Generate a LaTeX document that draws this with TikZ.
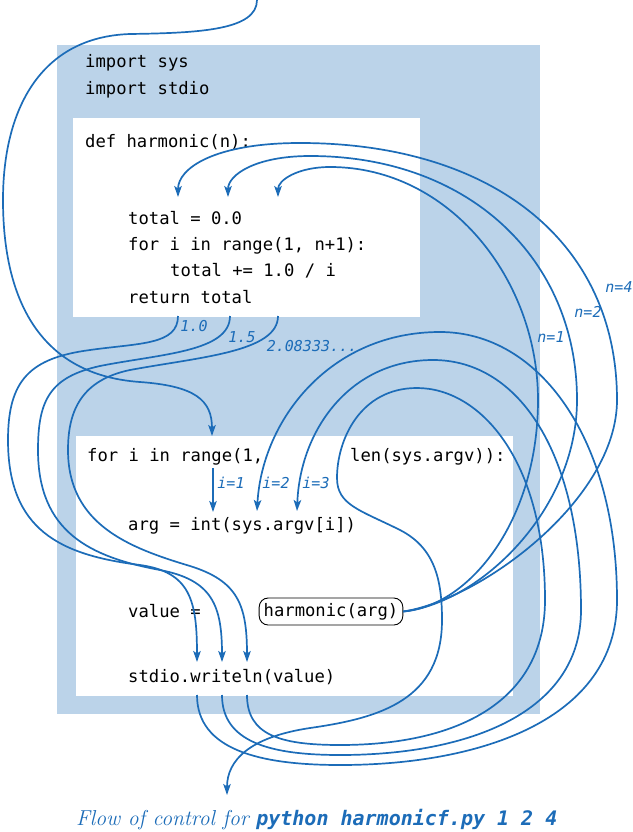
\documentclass[tikz,border=0pt]{standalone}
\usepackage{fontspec}
\setmonofont{DejaVu Sans Mono}
\usetikzlibrary{positioning,arrows.meta,calc}
\definecolor{flowblue}{RGB}{28,108,184}
\definecolor{panelblue}{RGB}{187,211,233}

\tikzset{
  code/.style={anchor=base west,inner sep=0pt,font=\fontsize{17.2}{20}\selectfont\ttfamily},
  flow/.style={draw=flowblue,line width=1.7pt},
  flowarrow/.style={flow,-{Stealth[length=11pt,width=7.5pt,inset=2.5pt]}},
  flowlabel/.style={inner sep=0pt,font=\fontsize{15}{17}\selectfont\ttfamily\itshape,text=flowblue},
  callbox/.style={draw,line width=0.9pt,rounded corners=9pt,fill=white,minimum height=27pt,
    inner xsep=4.5pt,font=\fontsize{17.2}{20}\selectfont\ttfamily},
}

\begin{document}
\begin{tikzpicture}[x=1pt,y=-1pt]
\useasboundingbox (0,0) rectangle (632,832);

% panels
\fill[panelblue] (57,45) rectangle (540,714);
\fill[white] (73,118) rectangle (420,317);
\fill[white] (76,436) rectangle (513,696);

% code
\node[code] (impsys) at (85,68) {import sys};
\node[code] (impstdio) at (85,95) {import stdio};
\node[code] (defline) at (85,147) {def harmonic(n):};
\node[code] (totalinit) at (128,224) {total = 0.0};
\node[code] (forinner) at (128,250) {for i in range(1, n+1):};
\node[code] (totaladd) at (170,276) {total += 1.0 / i};
\node[code] (retline) at (128,303) {return total};
\node[code] (forouter) at (87,461) {for i in range(1,};
\node[code] (lenpart) at (350,461) {len(sys.argv)):};
\node[code] (argline) at (128,530) {arg = int(sys.argv[i])};
\node[code] (valueline) at (128,617) {value =};
\node[code] (writeline) at (128,682) {stdio.writeln(value)};
\node[callbox] (call) at (331,611.5) {harmonic(arg)};

% connector ends
\coordinate (start) at (257,0);
\coordinate (enter) at (212,436);
\coordinate (t1) at (178,197);
\coordinate (t2) at (228,197);
\coordinate (t3) at (278,197);
\coordinate (r1) at (178,316);
\coordinate (r2) at (230,316);
\coordinate (r3) at (278,316);
\coordinate (w1) at (197,662);
\coordinate (w2) at (222,662);
\coordinate (w3) at (247,662);
\coordinate (b1) at (197,695);
\coordinate (b2) at (222,695);
\coordinate (b3) at (247,695);
\coordinate (i1s) at (213,468);
\coordinate (i1) at (213,512);
\coordinate (i2) at (257,511);
\coordinate (i3) at (297,511);
\coordinate (done) at (227,795);

% entry
\draw[flowarrow] (start) .. controls (257,30) and (200,33) .. (130,34)
  .. controls (40,37) and (3,110) .. (3,200)
  .. controls (3,300) and (40,375) .. (140,382)
  .. controls (195,386) and (212,400) .. (enter);

% calls
\draw[flowarrow] (call.east) .. controls (480,600) and (617,500) .. (617,400)
  .. controls (617,240) and (490,143) .. (300,143)
  .. controls (215,143) and (178,168) .. (t1);
\draw[flowarrow] (call.east) .. controls (480,603) and (577,510) .. (577,400)
  .. controls (577,260) and (470,156) .. (310,156)
  .. controls (255,156) and (228,175) .. (t2);
\draw[flowarrow] (call.east) .. controls (470,606) and (538,520) .. (538,400)
  .. controls (538,280) and (450,167) .. (330,167)
  .. controls (298,167) and (278,180) .. (t3);

% returns
\draw[flowarrow] (r1) .. controls (178,345) and (140,343) .. (90,350)
  .. controls (30,358) and (8,380) .. (8,440)
  .. controls (8,530) and (60,555) .. (140,565)
  .. controls (190,572) and (197,600) .. (w1);
\draw[flowarrow] (r2) .. controls (230,352) and (160,354) .. (100,366)
  .. controls (50,377) and (38,400) .. (38,450)
  .. controls (38,532) and (90,557) .. (160,570)
  .. controls (212,580) and (222,605) .. (w2);
\draw[flowarrow] (r3) .. controls (278,352) and (200,357) .. (130,370)
  .. controls (82,380) and (68,410) .. (68,450)
  .. controls (68,525) and (130,548) .. (190,566)
  .. controls (238,581) and (247,605) .. (w3);

% next i
\draw[flowarrow] (i1s) -- (i1);
\draw[flowarrow] (b1) .. controls (197,750) and (260,765) .. (340,765)
  .. controls (480,765) and (617,720) .. (617,600)
  .. controls (617,440) and (540,332) .. (440,332)
  .. controls (330,332) and (262,420) .. (i2);
\draw[flowarrow] (b2) .. controls (222,742) and (270,755) .. (340,755)
  .. controls (470,755) and (581,712) .. (581,610)
  .. controls (581,455) and (520,360) .. (433,360)
  .. controls (350,360) and (300,430) .. (i3);
\draw[flowarrow] (b3) .. controls (247,735) and (280,745) .. (340,745)
  .. controls (460,745) and (545,700) .. (545,600)
  .. controls (545,460) and (480,388) .. (417,388)
  .. controls (360,388) and (337,440) .. (337,478)
  .. controls (337,505) and (360,510) .. (400,530)
  .. controls (435,548) and (442,580) .. (442,620)
  .. controls (442,700) and (380,718) .. (310,728)
  .. controls (250,737) and (227,760) .. (done);

% labels
\node[flowlabel] (v1) at (194,326) {1.0};
\node[flowlabel] (v2) at (242,337) {1.5};
\node[flowlabel] (v3) at (312,346) {2.08333...};
\node[flowlabel] (n1) at (551,337) {n=1};
\node[flowlabel] (n2) at (588,312) {n=2};
\node[flowlabel] (n4) at (619,287) {n=4};
\node[flowlabel] (l1) at (231,483) {i=1};
\node[flowlabel] (l2) at (276,483) {i=2};
\node[flowlabel] (l3) at (316,483) {i=3};

% caption
\node[anchor=base west,inner sep=0pt,text=flowblue] (caption) at (76,825)
  {\fontsize{21.6}{26}\selectfont\rmfamily\itshape Flow of control for
   {\fontsize{20}{24}\selectfont\ttfamily\bfseries\itshape python harmonicf.py 1 2 4}};
\end{tikzpicture}
\end{document}
